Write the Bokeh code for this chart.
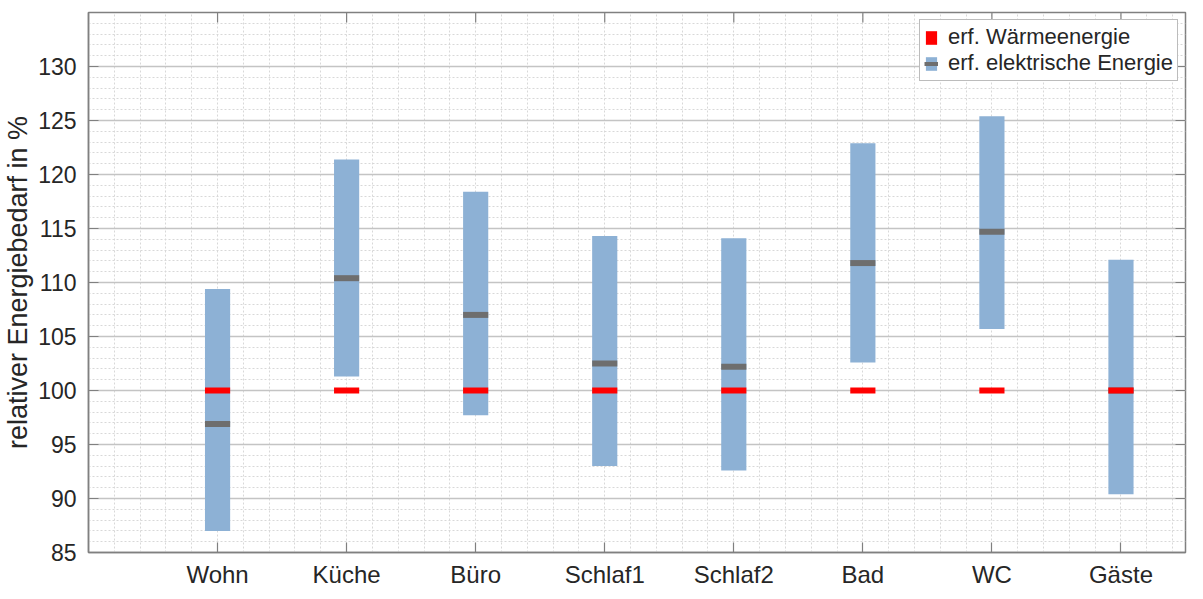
import math
from bokeh.plotting import figure
from bokeh.models import (FixedTicker, Legend, LegendItem, Range1d, ColumnDataSource)
from bokeh.embed import file_html
from bokeh.resources import INLINE

# ---- data ----
kategorien = ["Wohn", "Küche", "Büro", "Schlaf1", "Schlaf2", "Bad", "WC", "Gäste"]
pos = [1, 2, 3, 4, 5, 6, 7, 8]
el_min = [87.0, 101.3, 97.7, 93.0, 92.6, 102.6, 105.7, 90.4]
el_max = [109.4, 121.4, 118.4, 114.3, 114.1, 122.9, 125.4, 112.1]
el_mitte = [96.9, 110.4, 107.0, 102.5, 102.2, 111.8, 114.7, 100.0]
waerme = [100, 100, 100, 100, 100, 100, 100, 100]
y_ticks = [85, 90, 95, 100, 105, 110, 115, 120, 125, 130]

FONT = "Liberation Sans"
TXT = "#262626"
AX = "#808080"
BLUE = "#8db1d5"
GRAY = "#6e6e6e"
RED = "#ff0000"
X0, X1, Y0, Y1 = 0, 8.5, 85, 135

src = ColumnDataSource(dict(x=pos, lo=el_min, hi=el_max, mid=el_mitte, w=waerme))

p = figure(width=1187, height=590, output_backend="svg", toolbar_location=None,
           x_range=Range1d(X0, X1), y_range=Range1d(Y0, Y1),
           min_border_left=82, min_border_right=2, min_border_top=12, min_border_bottom=30)
p.background_fill_color = "white"
p.border_fill_color = "white"
p.outline_line_color = AX
p.outline_line_width = 1.5

xt = FixedTicker(ticks=pos, minor_ticks=[round(i * 0.2, 1) for i in range(43)])
yt = FixedTicker(ticks=y_ticks, minor_ticks=list(range(85, 136)))

# main axes
xa = p.xaxis[0]
xa.ticker = xt
xa.major_label_overrides = {i: k for i, k in zip(pos, kategorien)}
ya = p.yaxis[0]
ya.ticker = yt
ya.axis_label = "relativer Energiebedarf in %"

for ax in (xa, ya):
    ax.axis_line_color = AX
    ax.axis_line_width = 1.5
    ax.major_tick_line_color = AX
    ax.major_tick_line_width = 1.2
    ax.major_tick_in = 10
    ax.major_tick_out = 0
    ax.minor_tick_line_color = None
    ax.major_label_text_font = FONT
    ax.major_label_text_color = TXT
xa.major_label_text_font_size = "24px"
ya.major_label_text_font_size = "23px"
xa.major_label_standoff = 4
ya.major_label_standoff = 8
ya.axis_label_text_font = FONT
ya.axis_label_text_font_size = "27px"
ya.axis_label_text_font_style = "normal"
ya.axis_label_text_color = TXT
ya.axis_label_standoff = 2

# box ticks on top and right (inside)
p.ray(x=pos, y=[Y1] * len(pos), length=10, length_units="screen",
      angle=-math.pi / 2, line_color=AX, line_width=1.2)
p.ray(x=[X1] * len(y_ticks), y=y_ticks, length=10, length_units="screen",
      angle=math.pi, line_color=AX, line_width=1.2)

# grids
p.xgrid.ticker = xt
p.xgrid.grid_line_color = None
p.xgrid.minor_grid_line_color = "#d8d8d8"
p.xgrid.minor_grid_line_dash = "2 2"
p.xgrid.minor_grid_line_width = 1
p.ygrid.ticker = yt
p.ygrid.grid_line_color = "#c4c4c4"
p.ygrid.grid_line_width = 1.3
p.ygrid.minor_grid_line_color = "#d8d8d8"
p.ygrid.minor_grid_line_dash = "2 2"
p.ygrid.minor_grid_line_width = 1

# glyphs
bars = p.vbar(x="x", bottom="lo", top="hi", width=0.195, source=src,
              fill_color=BLUE, line_color=None)
mids = p.rect(x="x", y="mid", width=0.195, height=6, height_units="screen",
              source=src, fill_color=GRAY, line_color=None)
reds = p.rect(x="x", y="w", width=0.195, height=6, height_units="screen",
              source=src, fill_color=RED, line_color=None)
dummy = p.line(x=[float("nan")], y=[float("nan")], line_color=GRAY, line_width=4)

leg = Legend(items=[LegendItem(label="erf. Wärmeenergie", renderers=[reds]),
                    LegendItem(label="erf. elektrische Energie", renderers=[bars, dummy])],
             location="top_right")
leg.margin = 7
leg.padding = 4
leg.spacing = 0
leg.glyph_width = 14
leg.glyph_height = 17
leg.label_height = 20
leg.label_standoff = 10
leg.label_text_font = FONT
leg.label_text_font_size = "22px"
leg.label_text_color = TXT
leg.border_line_color = "#7a7a7a"
leg.border_line_width = 1
leg.background_fill_color = "white"
leg.background_fill_alpha = 1
p.add_layout(leg)

open("out.html", "w").write(file_html(p, INLINE))
